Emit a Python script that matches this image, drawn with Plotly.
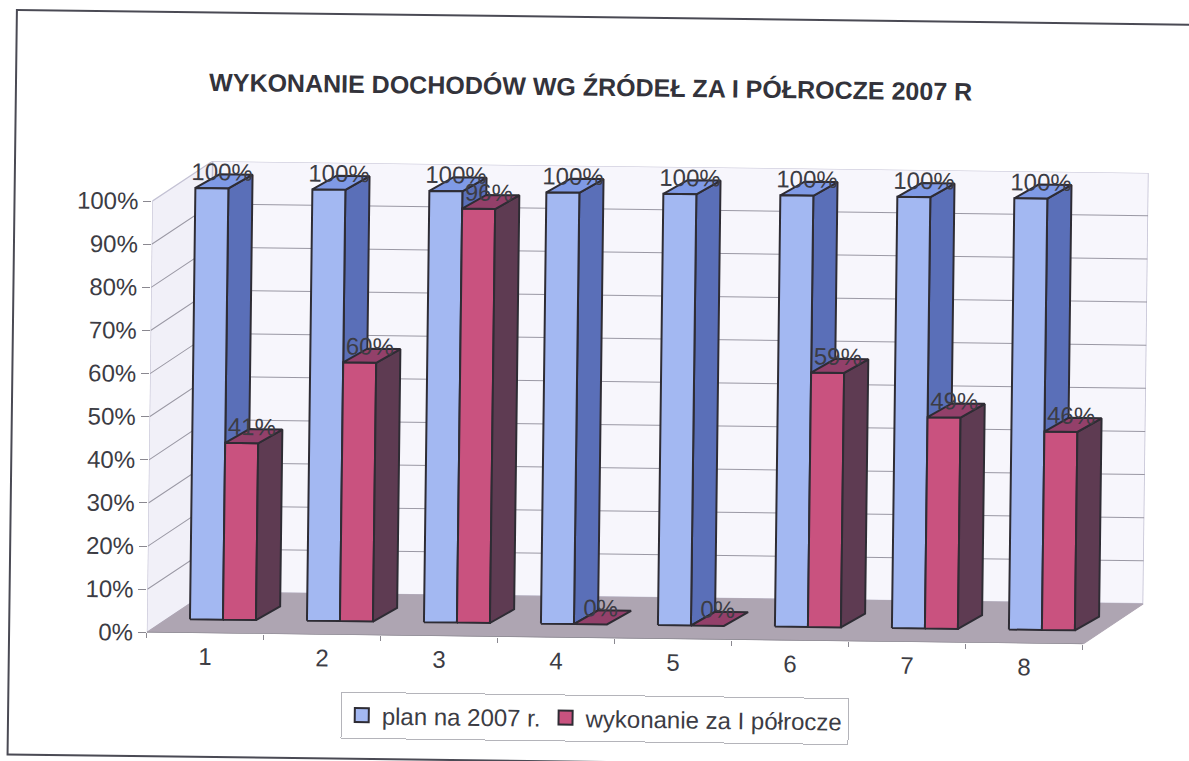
import plotly.graph_objects as go

TITLE = "WYKONANIE DOCHODÓW WG ŹRÓDEŁ ZA I PÓŁROCZE 2007 R"
categories = [1, 2, 3, 4, 5, 6, 7, 8]
plan = [100, 100, 100, 100, 100, 100, 100, 100]
wykonanie = [41, 60, 96, 0, 0, 59, 49, 46]
y_ticks = [0, 10, 20, 30, 40, 50, 60, 70, 80, 90, 100]
name_plan = "plan na 2007 r."
name_wyk = "wykonanie za I półrocze"

W, H = 1230, 790
L, R, T, B = 150, 1146, 166, 637.7
PX_X = 117.0                 # px per category
PX_Y = 4.31                  # px per percent
to_x = lambda px: px / PX_X
to_y = lambda px: px / PX_Y
pap_x = lambda px: (px - L) / (R - L)
pap_y = lambda py: (B - py) / (B - T)

WALL_DX, WALL_DY = to_x(60), to_y(41)
BAR_DX, BAR_DY = to_x(24), to_y(14)
OFF_DX, OFF_DY = to_x(18), to_y(13.7)
BAR_W = to_x(33)
GAP = to_x(25)
X0 = 0.5

TXT = "#3c3c44"
EDGE = "#2e2c34"
FONT = "Liberation Sans"

fig = go.Figure()


def poly(xs, ys, fill, line=EDGE, width=2.0):
    fig.add_trace(go.Scatter(
        x=xs + xs[:1], y=ys + ys[:1], mode="lines", fill="toself", fillcolor=fill,
        line=dict(color=line, width=width), showlegend=False, hoverinfo="skip"))


def seg(xs, ys, color, width=1.0):
    fig.add_trace(go.Scatter(x=xs, y=ys, mode="lines", line=dict(color=color, width=width),
                             showlegend=False, hoverinfo="skip"))


XE = X0 + len(categories)
# walls and floor
poly([X0, X0 + WALL_DX, X0 + WALL_DX, X0], [0, WALL_DY, 100 + WALL_DY, 100], "#f1f0f8", "#c4c2d4", 1.2)
poly([X0 + WALL_DX, XE + WALL_DX, XE + WALL_DX, X0 + WALL_DX],
     [WALL_DY, WALL_DY, 100 + WALL_DY, 100 + WALL_DY], "#f7f6fc", "#c4c2d4", 1.6)
poly([X0, XE, XE + WALL_DX, X0 + WALL_DX], [0, 0, WALL_DY, WALL_DY], "#aea5b2", "#aea5b2", 1)
seg([X0, XE], [0, 0], "#8a8890", 1.2)
for v in y_ticks[1:-1]:
    seg([X0, X0 + WALL_DX, XE + WALL_DX], [v, v + WALL_DY, v + WALL_DY], "#9a98a4", 1.0)

# bars
labels = []
for i, (p, w) in enumerate(zip(plan, wykonanie)):
    xb = X0 + i + OFF_DX + GAP
    xm = xb + BAR_W
    xr = xm + BAR_W
    y0 = OFF_DY
    # plan bar: side, top, front
    poly([xm, xm + BAR_DX, xm + BAR_DX, xm], [y0, y0 + BAR_DY, y0 + p + BAR_DY, y0 + p], "#5a6fb8")
    poly([xb, xm, xm + BAR_DX, xb + BAR_DX], [y0 + p, y0 + p, y0 + p + BAR_DY, y0 + p + BAR_DY], "#7f9ae6")
    poly([xb, xm, xm, xb], [y0, y0, y0 + p, y0 + p], "#a3b8f2")
    # achieved bar: front, side, top
    if w > 0:
        poly([xm, xr, xr, xm], [y0, y0, y0 + w, y0 + w], "#c9527f")
        poly([xr, xr + BAR_DX, xr + BAR_DX, xr], [y0, y0 + BAR_DY, y0 + w + BAR_DY, y0 + w], "#5e3b52")
    poly([xm, xr, xr + BAR_DX, xm + BAR_DX], [y0 + w, y0 + w, y0 + w + BAR_DY, y0 + w + BAR_DY], "#93406a")
    labels.append((xb + BAR_W / 2 + to_x(10), y0 + p + to_y(14), p))
    labels.append((xm + BAR_W / 2 + to_x(10), y0 + w + to_y(14), w))

fig.add_trace(go.Scatter(
    x=[a[0] for a in labels], y=[a[1] for a in labels], text=[f"{a[2]}%" for a in labels],
    mode="text", textposition="middle center", textfont=dict(family=FONT, size=24, color=TXT),
    showlegend=False, hoverinfo="skip"))

# legend entries
for nm, col in ((name_plan, "#a3b8f2"), (name_wyk, "#c9527f")):
    fig.add_trace(go.Scatter(x=[None], y=[None], mode="markers", name=nm,
                             marker=dict(symbol="square", size=14, color=col, line=dict(color=EDGE, width=2))))

fig.update_layout(
    width=W, height=H, autosize=False,
    margin=dict(l=L, r=W - R, t=T, b=H - B, pad=0),
    paper_bgcolor="white", plot_bgcolor="rgba(0,0,0,0)",
    font=dict(family=FONT, color=TXT, size=24),
    title=dict(text="<b>" + TITLE + "</b>", x=587 / W, y=1 - 87 / H, xanchor="center", yanchor="middle",
               font=dict(family=FONT, size=25, color="#33333b")),
    legend=dict(orientation="h", x=pap_x(599), y=pap_y(718), xanchor="center", yanchor="middle",
                bgcolor="white", bordercolor="#b4b4ba", borderwidth=1,
                font=dict(family=FONT, size=24, color=TXT), itemwidth=30, traceorder="normal"),
    shapes=[dict(type="rect", xref="paper", yref="paper", x0=pap_x(12.3), x1=pap_x(1300),
                 y0=pap_y(761.4), y1=pap_y(17.3),
                 line=dict(color="#4a4a54", width=2), layer="below")],
    xaxis=dict(range=[X0, X0 + (R - L) / PX_X], tickmode="array", tickvals=categories,
               ticktext=[str(c) for c in categories], ticks="outside", ticklen=2, tickcolor="rgba(0,0,0,0)",
               tickfont=dict(family=FONT, size=24, color=TXT), showgrid=False, zeroline=False, showline=False,
               minor=dict(tickmode="array", tickvals=[X0 + i for i in range(len(categories) + 1)], ticks="outside",
                          ticklen=5, tickcolor="#8a8890", showgrid=False)),
    yaxis=dict(range=[0, (B - T) / PX_Y], tickmode="array", tickvals=y_ticks,
               ticktext=[f"{v}%" for v in y_ticks], ticks="outside", ticklen=8, tickcolor="#8a8890",
               tickfont=dict(family=FONT, size=24, color=TXT), showgrid=False, zeroline=False, showline=False),
)

script = """
document.documentElement.style.overflow='hidden';
document.documentElement.style.background='white';
document.body.style.margin='0';document.body.style.overflow='hidden';document.body.style.background='white';
var g=document.getElementById('{plot_id}');
g.style.transformOrigin='594.5px 380.5px';
g.style.transform='rotate(0.72deg)';
window.dispatchEvent(new Event('resize'));
"""
fig.write_html("out.html", post_script=script, config=dict(displayModeBar=False))
